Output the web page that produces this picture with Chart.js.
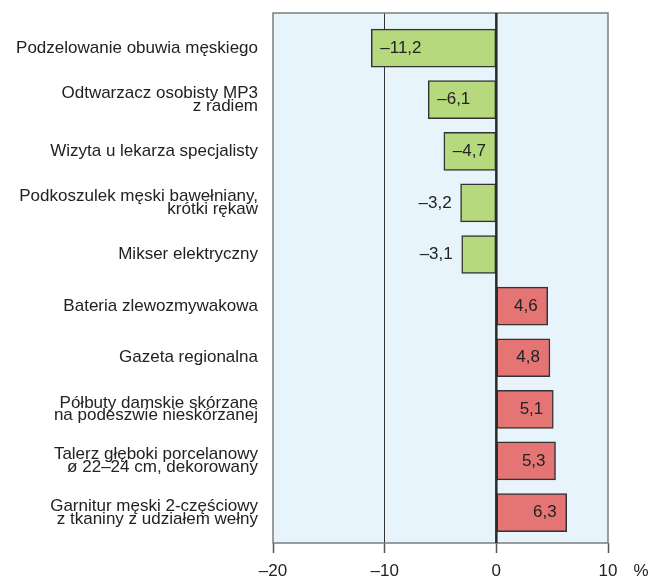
<!DOCTYPE html>
<html>
<head>
<meta charset="utf-8">
<script src="https://cdn.jsdelivr.net/npm/chart.js@4/dist/chart.umd.min.js"></script>
<style>
html,body{margin:0;padding:0;background:#fff;}
#wrap{position:relative;width:651px;height:579px;}
</style>
</head>
<body>
<div id="wrap"><canvas id="c" width="651" height="579"></canvas></div>
<script>
const categories = [
  ["Podzelowanie obuwia męskiego"],
  ["Odtwarzacz osobisty MP3", "z radiem"],
  ["Wizyta u lekarza specjalisty"],
  ["Podkoszulek męski bawełniany,", "krótki rękaw"],
  ["Mikser elektryczny"],
  ["Bateria zlewozmywakowa"],
  ["Gazeta regionalna"],
  ["Półbuty damskie skórzane", "na podeszwie nieskórzanej"],
  ["Talerz głęboki porcelanowy", "ø 22–24 cm, dekorowany"],
  ["Garnitur męski 2-częściowy", "z tkaniny z udziałem wełny"]
];
const values = [-11.2, -6.1, -4.7, -3.2, -3.1, 4.6, 4.8, 5.1, 5.3, 6.3];
const xTicks = [-20, -10, 0, 10];
const unitLabel = "%";

const FONT = "'Liberation Sans', Arial, sans-serif";
const fmt = v => (v < 0 ? "–" : "") + Math.abs(v).toFixed(1).replace(".", ",");

const bgPlugin = {
  id: 'bg',
  beforeDraw(chart) {
    const a = chart.chartArea, ctx = chart.ctx;
    ctx.save();
    ctx.fillStyle = '#e8f4fb';
    ctx.fillRect(a.left, a.top, a.right - a.left, a.bottom - a.top);
    ctx.restore();
  },
  afterDraw(chart) {
    const a = chart.chartArea, ctx = chart.ctx;
    ctx.save();
    ctx.strokeStyle = '#7d7d7d';
    ctx.lineWidth = 1.5;
    ctx.strokeRect(a.left, a.top, a.right - a.left, a.bottom - a.top);
    const x0 = chart.scales.x.getPixelForValue(0);
    ctx.strokeStyle = '#2a2a2a';
    ctx.lineWidth = 2.5;
    ctx.beginPath(); ctx.moveTo(x0, a.top); ctx.lineTo(x0, a.bottom); ctx.stroke();
    ctx.fillStyle = '#222';
    ctx.font = '17px ' + FONT;
    ctx.textAlign = 'center';
    ctx.textBaseline = 'middle';
    ctx.fillText(unitLabel, 641, 571);
    const meta = chart.getDatasetMeta(0);
    meta.data.forEach((el, i) => {
      const v = values[i];
      const t = fmt(v);
      if (v < 0) {
        if (Math.abs(v) >= 4) {
          ctx.textAlign = 'left';
          ctx.fillText(t, el.x + 9, el.y);
        } else {
          ctx.textAlign = 'right';
          ctx.fillText(t, el.x - 9, el.y);
        }
      } else {
        ctx.textAlign = 'right';
        ctx.fillText(t, el.x - 10, el.y);
      }
    });
    ctx.restore();
  }
};

new Chart(document.getElementById('c'), {
  type: 'bar',
  data: {
    datasets: [{
      data: values.map((v, i) => ({ x: v, y: i })),
      backgroundColor: values.map(v => v < 0 ? '#b6d97d' : '#e57575'),
      borderColor: '#333',
      borderWidth: 1.5,
      borderSkipped: false,
      barThickness: 38
    }]
  },
  options: {
    indexAxis: 'y',
    responsive: false,
    animation: false,
    devicePixelRatio: 1,
    layout: { padding: { top: 13, right: 43, left: 0, bottom: 0 } },
    plugins: { legend: { display: false }, tooltip: { enabled: false } },
    scales: {
      x: {
        type: 'linear',
        offset: false,
        min: -20, max: 10,
        afterBuildTicks: s => { s.ticks = xTicks.map(v => ({ value: v })); },
        afterFit: s => { s.height = 36; s.paddingLeft = 0; s.paddingRight = 0; },
        border: { display: false },
        grid: {
          offset: false,
          color: c => c.tick && c.tick.value === -10 ? '#333' : 'rgba(0,0,0,0)',
          lineWidth: 1,
          tickColor: '#555',
          tickWidth: 1.5,
          tickLength: 10,
          drawOnChartArea: true
        },
        ticks: {
          padding: 8,
          color: '#222',
          font: { family: FONT, size: 17 },
          callback: v => (v < 0 ? '–' : '') + Math.abs(v)
        }
      },
      y: {
        type: 'linear',
        offset: false,
        reverse: true,
        min: -0.68, max: 9.59,
        afterBuildTicks: s => { s.ticks = categories.map((_, i) => ({ value: i })); },
        afterFit: s => { s.width = 273; s.paddingTop = 0; s.paddingBottom = 0; },
        border: { display: false },
        grid: { display: false, drawTicks: false, offset: false },
        ticks: {
          padding: 15,
          color: '#222',
          font: { family: FONT, size: 17, lineHeight: 0.76 },
          callback: v => categories[v] || ''
        }
      }
    }
  },
  plugins: [bgPlugin]
});
</script>
</body>
</html>
